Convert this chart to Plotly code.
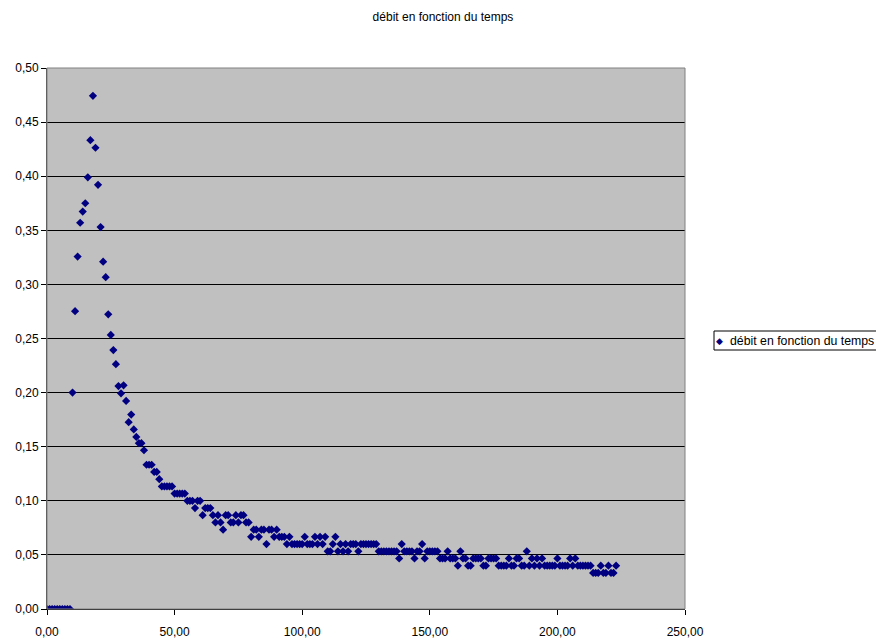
import plotly.graph_objects as go

# Temps (s) et débit mesuré
temps = [
    0, 1, 2, 3, 4, 5, 6, 7, 8, 9,
    10, 11, 12, 13, 14, 15, 16, 17, 18, 19,
    20, 21, 22, 23, 24, 25, 26, 27, 28, 29,
    30, 31, 32, 33, 34, 35, 36, 37, 38, 39,
    40, 41, 42, 43, 44, 45, 46, 47, 48, 49,
    50, 51, 52, 53, 54, 55, 56, 57, 58, 59,
    60, 61, 62, 63, 64, 65, 66, 67, 68, 69,
    70, 71, 72, 73, 74, 75, 76, 77, 78, 79,
    80, 81, 82, 83, 84, 85, 86, 87, 88, 89,
    90, 91, 92, 93, 94, 95, 96, 97, 98, 99,
    100, 101, 102, 103, 104, 105, 106, 107, 108, 109,
    110, 111, 112, 113, 114, 115, 116, 117, 118, 119,
    120, 121, 122, 123, 124, 125, 126, 127, 128, 129,
    130, 131, 132, 133, 134, 135, 136, 137, 138, 139,
    140, 141, 142, 143, 144, 145, 146, 147, 148, 149,
    150, 151, 152, 153, 154, 155, 156, 157, 158, 159,
    160, 161, 162, 163, 164, 165, 166, 167, 168, 169,
    170, 171, 172, 173, 174, 175, 176, 177, 178, 179,
    180, 181, 182, 183, 184, 185, 186, 187, 188, 189,
    190, 191, 192, 193, 194, 195, 196, 197, 198, 199,
    200, 201, 202, 203, 204, 205, 206, 207, 208, 209,
    210, 211, 212, 213, 214, 215, 216, 217, 218, 219,
    220, 221, 222, 223,
]

debit = [
    0, 0, 0, 0, 0, 0, 0, 0, 0, 0,
    0.2, 0.2753, 0.3257, 0.357, 0.3673, 0.375, 0.399, 0.4333, 0.4743, 0.4263,
    0.392, 0.353, 0.321, 0.3067, 0.2723, 0.2533, 0.2393, 0.2263, 0.206, 0.1993,
    0.2067, 0.1923, 0.1727, 0.1797, 0.166, 0.159, 0.1533, 0.1533, 0.1467, 0.1333,
    0.1333, 0.1333, 0.1267, 0.1267, 0.12, 0.1133, 0.1133, 0.1133, 0.1133, 0.1133,
    0.1067, 0.1067, 0.1067, 0.1067, 0.1067, 0.1, 0.1, 0.1, 0.0933, 0.1,
    0.1, 0.0867, 0.0933, 0.0933, 0.0933, 0.0867, 0.08, 0.0867, 0.08, 0.0733,
    0.0867, 0.0867, 0.08, 0.08, 0.0867, 0.08, 0.0867, 0.0867, 0.08, 0.08,
    0.0667, 0.0733, 0.0733, 0.0667, 0.0733, 0.0733, 0.06, 0.0733, 0.0733, 0.0667,
    0.0733, 0.0667, 0.0667, 0.0667, 0.06, 0.0667, 0.06, 0.06, 0.06, 0.06,
    0.06, 0.0667, 0.06, 0.06, 0.06, 0.0667, 0.06, 0.0667, 0.06, 0.0667,
    0.0533, 0.0533, 0.06, 0.0667, 0.0533, 0.06, 0.0533, 0.06, 0.0533, 0.06,
    0.06, 0.06, 0.0533, 0.06, 0.06, 0.06, 0.06, 0.06, 0.06, 0.06,
    0.0533, 0.0533, 0.0533, 0.0533, 0.0533, 0.0533, 0.0533, 0.0533, 0.0467, 0.06,
    0.0533, 0.0533, 0.0533, 0.0533, 0.0467, 0.0533, 0.0533, 0.06, 0.0467, 0.0533,
    0.0533, 0.0533, 0.0533, 0.0533, 0.0467, 0.0467, 0.0467, 0.0533, 0.0467, 0.0467,
    0.0467, 0.04, 0.0533, 0.0467, 0.0467, 0.04, 0.04, 0.0467, 0.0467, 0.0467,
    0.0467, 0.04, 0.04, 0.0467, 0.0467, 0.0467, 0.0467, 0.04, 0.04, 0.04,
    0.04, 0.0467, 0.04, 0.04, 0.0467, 0.0467, 0.04, 0.04, 0.0533, 0.04,
    0.0467, 0.04, 0.0467, 0.04, 0.0467, 0.04, 0.04, 0.04, 0.04, 0.04,
    0.0467, 0.04, 0.04, 0.04, 0.04, 0.0467, 0.04, 0.0467, 0.04, 0.04,
    0.04, 0.04, 0.04, 0.04, 0.0333, 0.0333, 0.0333, 0.04, 0.0333, 0.0333,
    0.04, 0.0333, 0.0333, 0.04,
]

assert len(temps) == len(debit)

titre = "débit en fonction du temps"
nom_serie = "débit en fonction du temps"

x_ticks = [0, 50, 100, 150, 200, 250]
y_ticks = [0, 0.05, 0.1, 0.15, 0.2, 0.25, 0.3, 0.35, 0.4, 0.45, 0.5]

W, H = 876, 642
ML, MR, MT, MB = 47, 191, 68, 33
PW, PH = W - ML - MR, H - MT - MB

FONT = "Liberation Sans, Arial, sans-serif"
NAVY = "#000080"


def px_to_paper(px, py):
    return (px - ML) / PW, (H - MB - py) / PH


fig = go.Figure()
fig.add_trace(go.Scatter(
    x=temps, y=debit, mode="markers", name=nom_serie,
    marker=dict(symbol="diamond", size=6.3, color=NAVY, line=dict(width=0)),
    showlegend=False,
))

# Cadre de la zone de tracé
fig.add_shape(type="rect", xref="paper", yref="paper", x0=0, x1=1, y0=0, y1=1,
              line=dict(color="#808080", width=1), layer="above")

# Légende encadrée à droite
lx0, ly0 = px_to_paper(714, 350)
lx1, ly1 = px_to_paper(877, 331)
fig.add_shape(type="rect", xref="paper", yref="paper", x0=lx0, x1=lx1, y0=ly0, y1=ly1,
              line=dict(color="#000000", width=1), fillcolor="white")
mx, my = px_to_paper(720, 340.5)
fig.add_annotation(xref="paper", yref="paper", x=mx, y=my, text="◆", showarrow=False,
                   font=dict(family="DejaVu Sans", size=9, color=NAVY),
                   xanchor="center", yanchor="middle")
tx, ty = px_to_paper(728, 340.5)
fig.add_annotation(xref="paper", yref="paper", x=tx, y=ty, text=nom_serie, showarrow=False,
                   font=dict(family=FONT, size=12.3, color="#000000"),
                   xanchor="left", yanchor="middle")

fig.update_layout(
    width=W, height=H,
    margin=dict(l=ML, r=MR, t=MT, b=MB, pad=0, autoexpand=False),
    paper_bgcolor="white",
    plot_bgcolor="#C0C0C0",
    separators=", ",
    font=dict(family=FONT, size=12, color="#000000"),
    title=dict(text=titre, x=443 / W, xref="container", xanchor="center",
               y=1 - 17 / H, yref="container", yanchor="middle",
               font=dict(family=FONT, size=12, color="#000000")),
    xaxis=dict(range=[0, 250], tickvals=x_ticks, tickformat=".2f",
               showgrid=False, zeroline=False, automargin=False,
               showline=True, linecolor="#000000", linewidth=1,
               ticks="outside", ticklen=5, tickcolor="#000000",
               ticklabelstandoff=7,
               tickfont=dict(family=FONT, size=12, color="#000000")),
    yaxis=dict(range=[0, 0.5], tickvals=y_ticks, tickformat=".2f",
               showgrid=True, gridcolor="#000000", gridwidth=1, zeroline=False,
               automargin=False,
               showline=True, linecolor="#404040", linewidth=1,
               ticks="outside", ticklen=5, tickcolor="#000000",
               tickfont=dict(family=FONT, size=12, color="#000000")),
)

fig.write_html("out.html")
